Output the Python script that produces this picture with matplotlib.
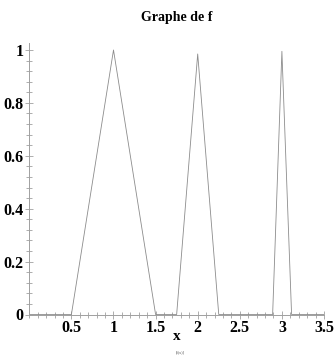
import matplotlib
matplotlib.use("Agg")
import matplotlib.pyplot as plt
from matplotlib.ticker import MultipleLocator, FixedLocator

# Data: vertices of the piecewise-linear function f
x_vals = [0, 0.5, 1.0, 1.5, 1.75, 2.0, 2.25, 2.89, 3.0, 3.115, 3.5]
y_vals = [0, 0, 1.0, 0, 0, 0.985, 0, 0, 0.995, 0, 0]
x_ticks = [0.5, 1, 1.5, 2, 2.5, 3, 3.5]
x_tick_labels = ["0.5", "1", "1.5", "2", "2.5", "3", "3.5"]
y_ticks = [0, 0.2, 0.4, 0.6, 0.8, 1]
y_tick_labels = ["0", "0.2", "0.4", "0.6", "0.8", "1"]

plt.rcParams['font.family'] = ['Liberation Serif', 'DejaVu Serif']

W, H = 335, 360
fig = plt.figure(figsize=(W / 100, H / 100), dpi=100)
x0, x1 = 29.3, 324.0
y0pix, y1pix = 314.5, 50.0
ymax = 1.025
top_pix = y0pix - (y0pix - y1pix) * ymax
ax = fig.add_axes([x0 / W, 1 - y0pix / H, (x1 - x0) / W, (y0pix - top_pix) / H])

ax.plot(x_vals, y_vals, color="#8c8c8c", lw=0.6)

ax.set_xlim(0, 3.5)
ax.set_ylim(0, ymax)
for s in ["top", "right"]:
    ax.spines[s].set_visible(False)
for s in ["left", "bottom"]:
    ax.spines[s].set_color("#a0a0a0")
    ax.spines[s].set_linewidth(0.7)

ax.xaxis.set_major_locator(FixedLocator(x_ticks))
ax.set_xticklabels(x_tick_labels)
ax.yaxis.set_major_locator(FixedLocator(y_ticks))
ax.set_yticklabels(y_tick_labels)
ax.xaxis.set_minor_locator(MultipleLocator(0.1))
ax.yaxis.set_minor_locator(MultipleLocator(0.04))

ax.tick_params(which="both", direction="inout", color="#a0a0a0", width=0.6)
ax.tick_params(which="major", length=6, labelsize=11.5, pad=1)
ax.tick_params(which="minor", length=4)
for lab in ax.get_xticklabels() + ax.get_yticklabels():
    lab.set_fontweight("bold")

ax.set_xlabel("x", fontsize=11, fontweight="bold", labelpad=-4)
fig.text(0.5 * (x0 + x1) / W, 1 - 18 / H, "Graphe de f", ha="center", va="center",
         fontsize=10, fontweight="bold")
fig.text(180 / W, 1 - 352 / H, "[f(x)]", ha="center", va="center",
         fontsize=3, color="#555555")

fig.savefig("out.png", dpi=100)
